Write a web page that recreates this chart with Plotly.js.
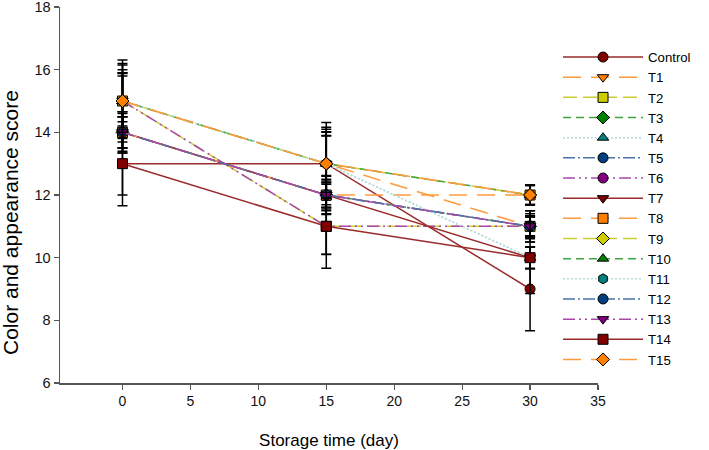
<!DOCTYPE html>
<html>
<head>
<meta charset="utf-8">
<script src="https://cdn.plot.ly/plotly-3.0.1.min.js"></script>
<style>html,body{margin:0;padding:0;background:#fff}#chart{width:709px;height:450px}</style>
</head>
<body>
<div id="chart"></div>
<script>
// ---- data ----
const days = [0, 15, 30];
const seriesNames = ["Control","T1","T2","T3","T4","T5","T6","T7","T8","T9","T10","T11","T12","T13","T14","T15"];
const control = [13, 13, 9];
const t1  = [15, 13, 11];
const t2  = [15, 11, 11];
const t3  = [14, 12, 11];
const t4  = [15, 13, 10];
const t5  = [14, 12, 11];
const t6  = [15, 11, 11];
const t7  = [14, 12, 10];
const t8  = [14, 12, 12];
const t9  = [15, 13, 12];
const t10 = [15, 13, 12];
const t11 = [15, 13, 10];
const t12 = [14, 12, 11];
const t13 = [14, 12, 11];
const t14 = [13, 11, 10];
const t15 = [15, 13, 12];
const errControl = [1.34, 1.02, 1.33];
const errT1  = [1.15, 1.16, 0.5];
const errT2  = [0.88, 0.89, 0.4];
const errT3  = [0.66, 0.62, 0.34];
const errT4  = [0.9, 0.88, 0.35];
const errT5  = [0.5, 0.39, 0.3];
const errT6  = [1.31, 1.34, 0.5];
const errT7  = [0.6, 0.5, 0.34];
const errT8  = [0.5, 0.4, 0.32];
const errT9  = [1.0, 1.31, 0.3];
const errT10 = [0.9, 1.0, 0.3];
const errT11 = [0.8, 0.9, 0.35];
const errT12 = [0.5, 0.45, 0.3];
const errT13 = [0.66, 0.6, 0.34];
const errT14 = [1.0, 0.9, 1.14];
const errT15 = [1.2, 1.1, 0.32];

const values = [control,t1,t2,t3,t4,t5,t6,t7,t8,t9,t10,t11,t12,t13,t14,t15];
const errors = [errControl,errT1,errT2,errT3,errT4,errT5,errT6,errT7,errT8,errT9,errT10,errT11,errT12,errT13,errT14,errT15];

// ---- styles ----
const DR = {line:'#9B2A2A', fill:'#800000'};
const OR = {line:'#FF9A3C', fill:'#FF8000'};
const YE = {line:'#CCCC33', fill:'#CCCC00'};
const GR = {line:'#3FA53F', fill:'#008000'};
const TE = {line:'#B5DCDC', fill:'#008080'};
const BL = {line:'#4A73A8', fill:'#003F7F'};
const PU = {line:'#A848A8', fill:'#800080'};
const styles = [
  {c:DR, sym:'circle', dash:'solid'},
  {c:OR, sym:'triangle-down', dash:'18px,10px'},
  {c:YE, sym:'square', dash:'14px,6px'},
  {c:GR, sym:'diamond', dash:'8px,5px'},
  {c:TE, sym:'triangle-up', dash:'2px,2px'},
  {c:BL, sym:'circle', dash:'12px,3px,2px,3px'},
  {c:PU, sym:'circle', dash:'12px,4px,2px,4px,2px,4px'},
  {c:DR, sym:'triangle-down', dash:'solid'},
  {c:OR, sym:'square', dash:'18px,10px'},
  {c:YE, sym:'diamond', dash:'14px,6px'},
  {c:GR, sym:'triangle-up', dash:'8px,5px'},
  {c:TE, sym:'hexagon', dash:'2px,2px'},
  {c:BL, sym:'circle', dash:'12px,3px,2px,3px'},
  {c:PU, sym:'triangle-down', dash:'12px,4px,2px,4px,2px,4px'},
  {c:DR, sym:'square', dash:'solid'},
  {c:OR, sym:'diamond', dash:'18px,10px'}
];

const traces = seriesNames.map((name, i) => ({
  type: 'scatter',
  mode: 'lines+markers',
  name: name,
  x: days,
  y: values[i],
  error_y: {type:'data', array: errors[i], visible:true, color:'#000', thickness:1.5, width:5},
  line: {color: styles[i].c.line, width: 1.5, dash: styles[i].dash},
  marker: {symbol: styles[i].sym, size: 10, color: styles[i].c.fill, line:{color:'#000', width:1}}
}));

const font = 'Liberation Sans, Arial, sans-serif';
const layout = {
  width: 709, height: 450,
  margin: {l:60, r:111, t:7, b:67},
  paper_bgcolor:'#fff', plot_bgcolor:'#fff',
  showlegend: true,
  font: {family: font, size: 14, color:'#000'},
  xaxis: {
    range: [-4.6, 35], tickvals:[0,5,10,15,20,25,30,35],
    showgrid:false, zeroline:false, showline:true, linecolor:'#555', linewidth:1.5,
    ticks:'outside', ticklen:5, tickcolor:'#555', tickwidth:1.2,
    tickfont:{family:font, size:14, color:'#111'}, ticklabeloverflow:'allow',
    title:{text:'Storage time (day)', font:{family:font, size:17, color:'#000'}, standoff:28}
  },
  yaxis: {
    range: [6, 18], tickvals:[6,8,10,12,14,16,18],
    showgrid:false, zeroline:false, showline:true, linecolor:'#555', linewidth:1.5,
    ticks:'outside', ticklen:5, tickcolor:'#555', tickwidth:1.2,
    tickfont:{family:font, size:14.5, color:'#111'}, ticklabeloverflow:'allow'
  },
  annotations: [{
    text:'Color and appearance score', textangle:-90,
    xref:'paper', yref:'paper', x:-0.0929, y:0.4255, xanchor:'center', yanchor:'middle',
    showarrow:false, font:{family:font, size:21, color:'#000'}
  }],
  legend: {
    x: 0.9257, xanchor:'left', y: 0.907, yanchor:'top',
    font:{family:font, size:13.2, color:'#000'},
    bgcolor:'rgba(0,0,0,0)', itemwidth: 80, tracegroupgap: 0,
    traceorder:'normal'
  }
};

Plotly.newPlot('chart', traces, layout, {displayModeBar:false, staticPlot:true});
</script>
</body>
</html>
